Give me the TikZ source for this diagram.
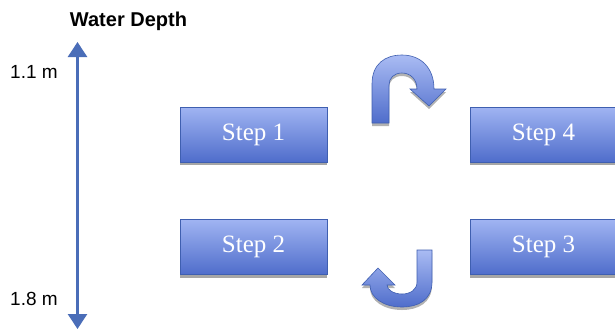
\documentclass[tikz,border=0pt]{standalone}
\usepackage{fontspec}
\setmainfont{Liberation Serif}
\setsansfont{Liberation Sans}
\usetikzlibrary{shadows,arrows.meta}
\definecolor{boxtop}{HTML}{A0B4F2}
\definecolor{boxbot}{HTML}{4F6DCB}
\definecolor{boxline}{HTML}{3F5FB0}
\definecolor{axis}{HTML}{4A6DB8}
\tikzset{
  stepbox/.style={rectangle, minimum width=147pt, minimum height=55pt, inner sep=0pt,
    top color=boxtop, bottom color=boxbot, draw=boxline, line width=0.6pt,
    drop shadow={shadow xshift=0pt, shadow yshift=-3pt, opacity=0.35, fill=black},
    text=white, font=\fontsize{25}{27}\selectfont},
  uturn/.style={top color=boxtop!90!white, bottom color=boxbot, draw=boxline, line width=0.6pt,
    drop shadow={shadow xshift=0pt, shadow yshift=-3pt, opacity=0.3, fill=black}},
  lab/.style={font=\sffamily\fontsize{19}{21}\selectfont, text=black, inner sep=0pt},
  depth/.style={draw=axis, line width=2.6pt, {Triangle[width=19pt,length=15pt]}-{Triangle[width=19pt,length=15pt]}}
}
\begin{document}
\begin{tikzpicture}[x=1pt,y=-1pt]
\useasboundingbox (0,0) rectangle (615,330);
\clip (0,0) rectangle (615,330);
\fill[white] (0,0) rectangle (615,330);
% boxes
\node[stepbox] (s1) at (253.5,134.5) {Step 1};
\node[stepbox] (s2) at (253.5,247) {Step 2};
\node[stepbox] (s4) at (543.5,134.5) {Step 4};
\node[stepbox] (s3) at (543.5,247) {Step 3};
% u-turn arrows
\path[uturn] (372,123) -- (372,84) .. controls (372,64) and (385,55) .. (402,55)
  .. controls (421,55) and (434,68) .. (434,89) -- (446,89) -- (429,106) -- (410,89) -- (417,89)
  .. controls (417,80) and (411,73) .. (402,73) .. controls (394,73) and (389,78) .. (389,85)
  -- (389,123) -- cycle;
\path[uturn] (432,250) -- (432,282) .. controls (432,300) and (418,307) .. (402,307)
  .. controls (384,307) and (370,298) .. (370,285) -- (362,285) -- (378,268) -- (395,285) -- (387,285)
  .. controls (387,290) and (394,294) .. (402,294) .. controls (410,294) and (417,290) .. (417,282)
  -- (417,250) -- cycle;
% depth axis
\coordinate (dtop) at (77.5,42);
\coordinate (dbot) at (77.5,329);
\draw[depth] (dtop) -- (dbot);
\node[lab, font=\sffamily\bfseries\fontsize{20}{22}\selectfont] (title) at (128.5,21) {Water Depth};
\node[lab, anchor=west] (d1) at (10,72) {1.1 m};
\node[lab, anchor=west] (d2) at (10,299) {1.8 m};
\end{tikzpicture}
\end{document}
